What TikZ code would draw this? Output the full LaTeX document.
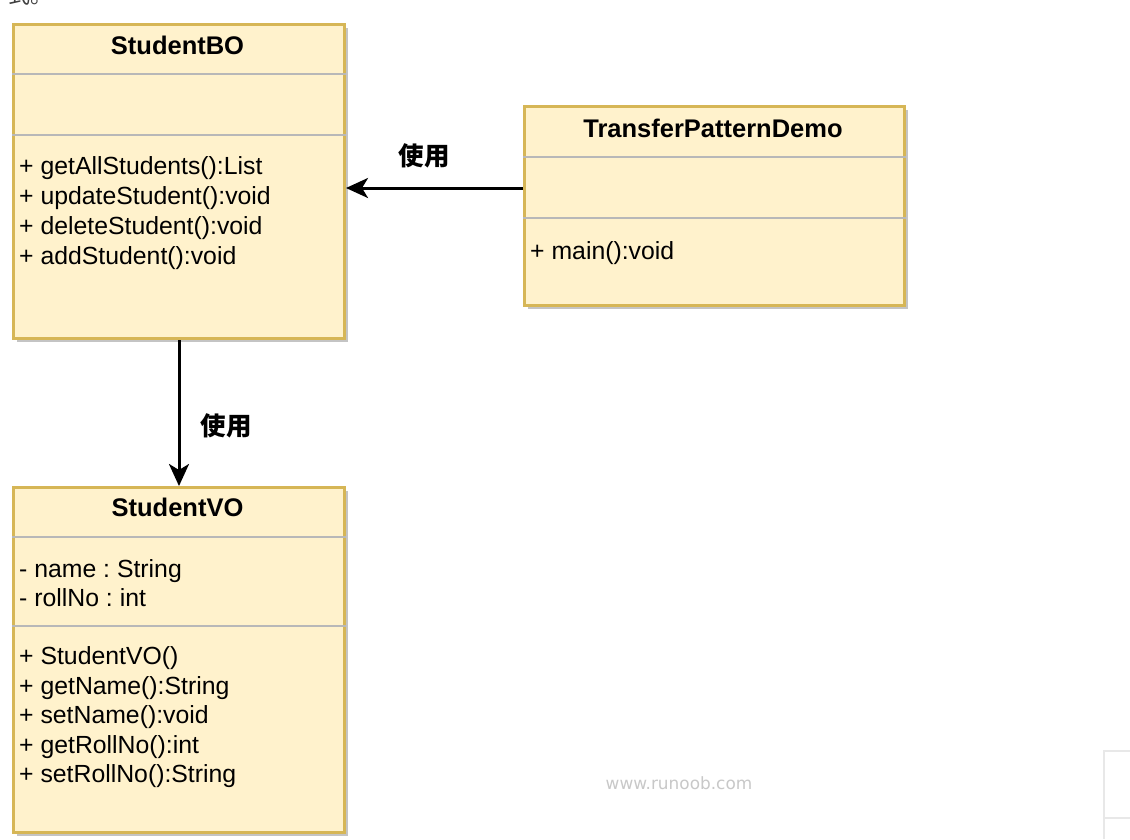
\documentclass[tikz,border=0pt]{standalone}
\usepackage{fontspec}
\setmainfont{Liberation Sans}
\newfontfamily\cjk{Noto Sans CJK SC}
\newfontfamily\wmfont{DejaVu Sans}
\usetikzlibrary{arrows.meta,shadows}
\definecolor{umlfill}{HTML}{FFF2CC}
\definecolor{umlstroke}{HTML}{D6B656}
\definecolor{sepc}{HTML}{B8B8B8}
\definecolor{shadowc}{HTML}{C4C4C4}
\definecolor{wmc}{HTML}{C8C8C8}
\definecolor{uic}{HTML}{E8E8E8}
\frenchspacing
\begin{document}
\begin{tikzpicture}[x=1pt,y=-1pt]
\tikzset{
  umlbox/.style={draw=umlstroke, line width=3pt, fill=umlfill, rectangle, inner sep=0pt, anchor=north west,
    drop shadow={shadow xshift=3pt, shadow yshift=-3pt, fill=shadowc, opacity=1}},
  sepline/.style={draw=sepc, line width=2pt},
  member/.style={anchor=base west, inner sep=0pt, font=\fontsize{24.8}{30}\selectfont},
  classtitle/.style={anchor=base, inner sep=0pt, font=\fontsize{25.5}{30}\selectfont\bfseries},
  uses/.style={draw=black, line width=3pt, -{Stealth[length=22pt,width=20pt,inset=6pt]}},
  useslabel/.style={inner sep=0pt, font=\fontsize{25.5}{30}\selectfont\cjk\bfseries},
  watermark/.style={inner sep=0pt, text=wmc, font=\fontsize{16.9}{20}\selectfont\wmfont},
  uiline/.style={draw=uic, line width=1.5pt}
}
\useasboundingbox (0,0) rectangle (1130,839);
\fill[white] (0,0) rectangle (1130,839);

% clipped text fragment at the top
\node[anchor=base west, inner sep=0pt, font=\fontsize{22}{26}\selectfont\cjk, text=black!75] (frag) at (8,3) {式。};

% StudentBO
\node[umlbox, minimum width=331pt, minimum height=314pt] (bo) at (12,23) {};
\draw[sepline] (bo.west |- 0,74) -- (bo.east |- 0,74);
\draw[sepline] (bo.west |- 0,135) -- (bo.east |- 0,135);
\node[classtitle] (botitle) at (177.5,54) {StudentBO};
\node[member] (bo1) at (19,174) {+ getAllStudents():List};
\node[member] (bo2) at (19,204) {+ updateStudent():void};
\node[member] (bo3) at (19,234) {+ deleteStudent():void};
\node[member] (bo4) at (19,264) {+ addStudent():void};

% TransferPatternDemo
\node[umlbox, minimum width=380pt, minimum height=199pt] (tpd) at (523,105) {};
\draw[sepline] (tpd.west |- 0,157) -- (tpd.east |- 0,157);
\draw[sepline] (tpd.west |- 0,218) -- (tpd.east |- 0,218);
\node[classtitle] (tpdtitle) at (713,137) {TransferPatternDemo};
\node[member] (tpd1) at (530,259) {+ main():void};

% StudentVO
\node[umlbox, minimum width=331pt, minimum height=345pt] (vo) at (12,486) {};
\draw[sepline] (vo.west |- 0,537) -- (vo.east |- 0,537);
\draw[sepline] (vo.west |- 0,626) -- (vo.east |- 0,626);
\node[classtitle] (votitle) at (177.5,516) {StudentVO};
\node[member] (vo1) at (19,577) {- name : String};
\node[member] (vo2) at (19,606) {- rollNo : int};
\node[member] (vo3) at (19,664) {+ StudentVO()};
\node[member] (vo4) at (19,694) {+ getName():String};
\node[member] (vo5) at (19,723) {+ setName():void};
\node[member] (vo6) at (19,753) {+ getRollNo():int};
\node[member] (vo7) at (19,782) {+ setRollNo():String};

% connectors
\draw[uses] (tpd.west |- 0,188) -- (bo.east |- 0,188);
\node[useslabel] (l1) at (424,156) {使用};
\draw[uses] (bo.south) -- (vo.north);
\node[useslabel] (l2) at (226,426) {使用};

% watermark
\node[watermark] (wm) at (679,783) {www.runoob.com};

% fragment of a UI widget at the bottom right
\coordinate (ui1) at (1104,751);
\coordinate (ui2) at (1130,751);
\coordinate (ui3) at (1104,839);
\coordinate (ui4) at (1104,818);
\coordinate (ui5) at (1130,818);
\draw[uiline] (ui2) -- (ui1) -- (ui3);
\draw[uiline] (ui4) -- (ui5);
\end{tikzpicture}
\end{document}
